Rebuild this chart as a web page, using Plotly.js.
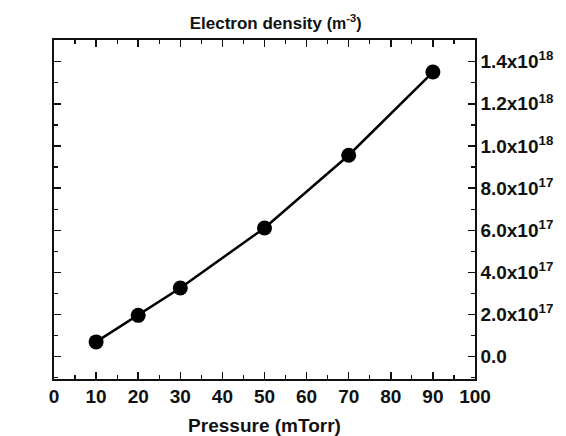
<!DOCTYPE html>
<html>
<head>
<meta charset="utf-8">
<script src="https://cdn.plot.ly/plotly-3.0.1.min.js"></script>
<style>
  html, body { margin: 0; padding: 0; background: #fff; }
  #chart { width: 566px; height: 436px; }
</style>
</head>
<body>
<div id="chart"></div>
<script>
// Electron density measured at each pressure
const pressure = [10, 20, 30, 50, 70, 90];
const density = [0.70e17, 1.96e17, 3.26e17, 6.11e17, 9.56e17, 1.351e18];

// Right-hand axis labels in scientific notation
const yTickVals = [0, 2e17, 4e17, 6e17, 8e17, 1.0e18, 1.2e18, 1.4e18];
const yTickText = ['0.0', '2.0x10<sup>17</sup>', '4.0x10<sup>17</sup>', '6.0x10<sup>17</sup>',
                   '8.0x10<sup>17</sup>', '1.0x10<sup>18</sup>', '1.2x10<sup>18</sup>', '1.4x10<sup>18</sup>'];
const xTickVals = [0, 10, 20, 30, 40, 50, 60, 70, 80, 90, 100];
const xTickText = ['0', '10', '20', '30', '40', '50', '60', '70', '80', '90', '100'];

const FONT = 'Liberation Sans, Arial, sans-serif';
const INK = '#111';
const bold = s => '<b>' + s + '</b>';

const trace = {
  x: pressure,
  y: density,
  type: 'scatter',
  mode: 'lines+markers',
  line: { color: '#000', width: 2.5 },
  marker: { color: '#000', size: 15 },
  showlegend: false,
  cliponaxis: false
};

const layout = {
  width: 566,
  height: 436,
  margin: { l: 54, r: 91, t: 40, b: 57 },
  paper_bgcolor: '#fff',
  plot_bgcolor: '#fff',
  font: { family: FONT, color: INK },
  title: {
    text: '<b>Electron density <span style="font-size:16px">(m<sup>-3</sup>)</span></b>',
    font: { family: FONT, size: 17, color: INK },
    xref: 'container', x: 0.487, xanchor: 'center',
    yref: 'container', y: 1 - 23 / 436, yanchor: 'middle'
  },
  xaxis: {
    range: [0, 100],
    tickmode: 'array',
    tickvals: xTickVals,
    ticktext: xTickText.map(bold),
    ticks: 'inside', ticklen: 7, tickwidth: 1.5, tickcolor: INK,
    minor: { tickmode: 'linear', tick0: 5, dtick: 10, ticks: 'inside', ticklen: 4, tickwidth: 1.2, tickcolor: INK },
    showline: true, linewidth: 1.6, linecolor: INK, mirror: 'ticks',
    showgrid: false, zeroline: false,
    tickfont: { family: FONT, size: 19, color: INK },
    title: { text: bold('Pressure (mTorr)'), font: { family: FONT, size: 19, color: INK }, standoff: 12 }
  },
  yaxis: {
    side: 'right',
    range: [-1.06e17, 1.503e18],
    tickmode: 'array',
    tickvals: yTickVals,
    ticktext: yTickText.map(bold),
    ticks: 'inside', ticklen: 7, tickwidth: 1.5, tickcolor: INK,
    minor: { tickmode: 'linear', tick0: 1e17, dtick: 2e17, ticks: 'inside', ticklen: 4, tickwidth: 1.2, tickcolor: INK },
    showline: true, linewidth: 1.6, linecolor: INK, mirror: 'ticks',
    showgrid: false, zeroline: false,
    tickfont: { family: FONT, size: 19, color: INK }
  }
};

Plotly.newPlot('chart', [trace], layout, { staticPlot: true, displayModeBar: false });
</script>
</body>
</html>
